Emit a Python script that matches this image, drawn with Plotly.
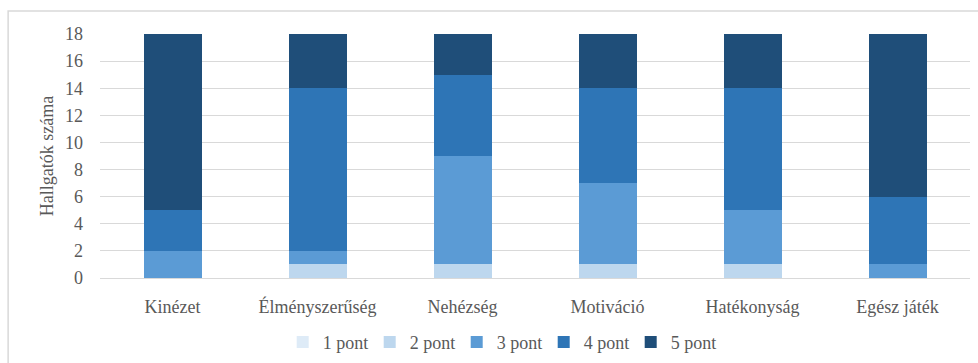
import plotly.graph_objects as go

categories = ["Kinézet", "Élményszerűség", "Nehézség", "Motiváció", "Hatékonyság", "Egész játék"]
series_names = ["1 pont", "2 pont", "3 pont", "4 pont", "5 pont"]
pont1 = [0, 0, 0, 0, 0, 0]
pont2 = [0, 1, 1, 1, 1, 0]
pont3 = [2, 1, 8, 6, 4, 1]
pont4 = [3, 12, 6, 7, 9, 5]
pont5 = [13, 4, 3, 4, 4, 12]
y_ticks = [0, 2, 4, 6, 8, 10, 12, 14, 16, 18]

colors = ["#deebf7", "#bdd7ee", "#5b9bd5", "#2e75b6", "#1f4e79"]
values = [pont1, pont2, pont3, pont4, pont5]

font_family = "Liberation Serif"
fig = go.Figure()
for name, vals, col in zip(series_names, values, colors):
    fig.add_trace(go.Bar(x=categories, y=vals, name=name, marker=dict(color=col, line=dict(width=0)), width=0.4))

fig.update_layout(
    barmode="stack",
    width=978, height=363,
    margin=dict(l=100, r=8, t=34, b=85, autoexpand=False),
    paper_bgcolor="white", plot_bgcolor="white",
    font=dict(family=font_family, size=18, color="#595959"),
    legend=dict(orientation="h", x=0.46, xanchor="center", yref="container", y=0.057, yanchor="middle",
                font=dict(family=font_family, size=18, color="#595959"), traceorder="normal",
                itemwidth=30, itemsizing="constant", entrywidth=42, entrywidthmode="pixels"),
    showlegend=True,
)
fig.update_yaxes(range=[0, 18], tickvals=y_ticks, showgrid=True, gridcolor="#d9d9d9", gridwidth=1,
                 zeroline=False, showline=False, ticklabelstandoff=16,
                 tickfont=dict(family=font_family, size=18, color="#595959"),
                 title=dict(text="Hallgatók száma", font=dict(family=font_family, size=18, color="#595959"), standoff=6))
fig.update_xaxes(showline=True, linecolor="#d9d9d9", linewidth=1, ticklabelstandoff=12,
                 tickfont=dict(family=font_family, size=18, color="#595959"))
fig.add_shape(type="rect", xref="paper", yref="paper", x0=-0.1056, x1=1.02, y0=-0.5, y1=1.0943,
              line=dict(color="#d9d9d9", width=1.5), fillcolor="rgba(0,0,0,0)", layer="below")
fig.write_html("out.html")
